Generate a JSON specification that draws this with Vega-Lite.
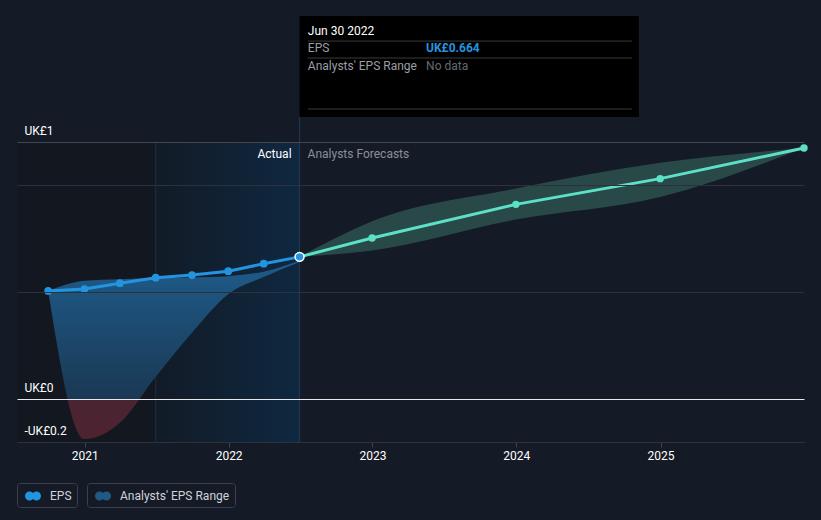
{
  "$schema": "https://vega.github.io/schema/vega-lite/v6.json",
  "width": 787,
  "height": 300,
  "autosize": {"type": "none"},
  "padding": {"left": 17, "top": 142, "right": 17, "bottom": 78},
  "background": "#151b26",
  "config": {
    "view": {"stroke": null},
    "font": "Roboto",
    "axisX": {"grid": false, "domainColor": "#3d424c", "tickColor": "#3d424c", "tickSize": 5, "labelColor": "#ffffff", "labelFontSize": 12, "labelFont": "Roboto", "labelPadding": 3, "labelFlush": false},
    "axisY": {"grid": true, "domain": false, "ticks": false, "tickSize": 0, "labelAlign": "left", "labelBaseline": "middle", "labelPadding": -7, "labelOffset": -12, "labelFlush": false, "labelColor": "#ffffff", "labelFontSize": 12, "labelFont": "Roboto"}
  },
  "datasets": {
    "actual": [
      {"date": "2020-09-30", "eps": 0.505},
      {"date": "2020-12-31", "eps": 0.514},
      {"date": "2021-03-31", "eps": 0.541},
      {"date": "2021-06-30", "eps": 0.567},
      {"date": "2021-09-30", "eps": 0.579},
      {"date": "2021-12-31", "eps": 0.597},
      {"date": "2022-03-31", "eps": 0.632},
      {"date": "2022-06-30", "eps": 0.664}
    ],
    "actualRange": [
      {"date": "2020-09-30", "lo": 0.505, "hi": 0.505},
      {"date": "2020-12-31", "lo": -0.186, "hi": 0.553},
      {"date": "2021-03-31", "lo": -0.11, "hi": 0.56},
      {"date": "2021-06-30", "lo": 0.105, "hi": 0.565},
      {"date": "2021-09-30", "lo": 0.31, "hi": 0.568},
      {"date": "2021-12-31", "lo": 0.49, "hi": 0.574},
      {"date": "2022-03-31", "lo": 0.57, "hi": 0.595},
      {"date": "2022-06-30", "lo": 0.64, "hi": 0.646}
    ],
    "forecast": [
      {"date": "2022-06-30", "eps": 0.664},
      {"date": "2022-12-31", "eps": 0.752},
      {"date": "2023-12-31", "eps": 0.909},
      {"date": "2024-12-31", "eps": 1.029},
      {"date": "2025-12-31", "eps": 1.172}
    ],
    "forecastRange": [
      {"date": "2022-06-30", "lo": 0.664, "hi": 0.664},
      {"date": "2022-12-31", "lo": 0.694, "hi": 0.83},
      {"date": "2023-12-31", "lo": 0.838, "hi": 0.983},
      {"date": "2024-12-31", "lo": 0.943, "hi": 1.103},
      {"date": "2025-12-31", "lo": 1.172, "hi": 1.172}
    ]
  },
  "layer": [
    {
      "data": {"values": [{}]},
      "mark": {"type": "rect", "fill": "#13171f"},
      "encoding": {
        "x": {"datum": {"year": 2020, "month": 7, "date": 13, "utc": true}, "type": "temporal", "title": null,
          "scale": {"type": "utc", "domain": [{"year": 2020, "month": 7, "date": 13, "utc": true}, {"year": 2025, "month": 12, "date": 31, "utc": true}]}},
        "x2": {"datum": {"year": 2021, "month": 6, "date": 30, "utc": true}},
        "y": {"datum": -0.2, "type": "quantitative", "title": null, "scale": {"domain": [-0.2, 1.2], "nice": false, "zero": false}},
        "y2": {"datum": 1.2}
      }
    },
    {
      "data": {"values": [{}]},
      "mark": {"type": "rect", "fill": {"gradient": "linear", "x1": 0, "y1": 0, "x2": 1, "y2": 0, "stops": [{"offset": 0, "color": "#121b27"}, {"offset": 1, "color": "#0f2840"}]}},
      "encoding": {
        "x": {"datum": {"year": 2021, "month": 6, "date": 30, "utc": true}, "type": "temporal", "title": null},
        "x2": {"datum": {"year": 2022, "month": 6, "date": 30, "utc": true}},
        "y": {"datum": -0.2, "type": "quantitative", "title": null, "scale": {"domain": [-0.2, 1.2], "nice": false, "zero": false}},
        "y2": {"datum": 1.2}
      }
    },
    {
      "data": {"values": [{}]},
      "mark": {"type": "rule", "color": "#1b2d42", "strokeWidth": 1},
      "encoding": {
        "x": {"datum": {"year": 2021, "month": 6, "date": 30, "utc": true}, "type": "temporal", "title": null},
        "y": {"datum": -0.2, "type": "quantitative", "title": null, "scale": {"domain": [-0.2, 1.2], "nice": false, "zero": false}},
        "y2": {"datum": 1.2}
      }
    },
    {
      "data": {"values": [{}]},
      "mark": {"type": "rule", "color": "#1f3b57", "strokeWidth": 1},
      "encoding": {
        "x": {"datum": {"year": 2022, "month": 6, "date": 30, "utc": true}, "type": "temporal", "title": null},
        "y": {"datum": -0.2, "type": "quantitative", "title": null, "scale": {"domain": [-0.2, 1.2], "nice": false, "zero": false}},
        "y2": {"datum": 1.3167}
      }
    },
    {
      "data": {"name": "forecastRange"},
      "mark": {"type": "area", "interpolate": "monotone", "fill": "#294848"},
      "encoding": {
        "x": {"field": "date", "type": "temporal", "title": null},
        "y": {"field": "lo", "type": "quantitative", "title": null, "scale": {"domain": [-0.2, 1.2], "nice": false, "zero": false}},
        "y2": {"field": "hi"}
      }
    },
    {
      "data": {"name": "actualRange"},
      "mark": {"type": "area", "interpolate": "monotone",
        "fill": {"gradient": "linear", "x1": 0, "y1": 0, "x2": 0, "y2": 1, "stops": [{"offset": 0, "color": "#1e5c8a"}, {"offset": 0.776, "color": "#1a3854"}, {"offset": 0.7765, "color": "#4a2431"}, {"offset": 1, "color": "#4e2330"}]}},
      "encoding": {
        "x": {"field": "date", "type": "temporal", "title": null},
        "y": {"field": "lo", "type": "quantitative", "title": null, "scale": {"domain": [-0.2, 1.2], "nice": false, "zero": false}},
        "y2": {"field": "hi"}
      }
    },
    {
      "data": {"name": "forecast"},
      "mark": {"type": "line", "color": "#5ce1c8", "strokeWidth": 3},
      "encoding": {
        "x": {"field": "date", "type": "temporal", "title": null},
        "y": {"field": "eps", "type": "quantitative", "title": null, "scale": {"domain": [-0.2, 1.2], "nice": false, "zero": false}}
      }
    },
    {
      "data": {"name": "forecast"},
      "mark": {"type": "circle", "color": "#5ce1c8", "size": 55, "opacity": 1},
      "encoding": {
        "x": {"field": "date", "type": "temporal", "title": null},
        "y": {"field": "eps", "type": "quantitative", "title": null, "scale": {"domain": [-0.2, 1.2], "nice": false, "zero": false}}
      }
    },
    {
      "data": {"name": "actual"},
      "mark": {"type": "line", "color": "#2394df", "strokeWidth": 3},
      "encoding": {
        "x": {"field": "date", "type": "temporal", "title": null,
          "scale": {"type": "utc", "domain": [{"year": 2020, "month": 7, "date": 13, "utc": true}, {"year": 2025, "month": 12, "date": 31, "utc": true}]},
          "axis": {"title": null, "grid": false, "format": "%Y",
            "values": [{"year": 2021, "month": 1, "date": 1, "utc": true}, {"year": 2022, "month": 1, "date": 1, "utc": true}, {"year": 2023, "month": 1, "date": 1, "utc": true}, {"year": 2024, "month": 1, "date": 1, "utc": true}, {"year": 2025, "month": 1, "date": 1, "utc": true}]}},
        "y": {"field": "eps", "type": "quantitative", "title": null,
          "scale": {"domain": [-0.2, 1.2], "nice": false, "zero": false},
          "axis": {"title": null, "grid": true, "values": [-0.2, 0, 0.5, 1, 1.2],
            "labelExpr": "datum.value === 1.2 ? 'UK£1' : datum.value === 0 ? 'UK£0' : datum.value === -0.2 ? '-UK£0.2' : ''",
            "gridColor": {"condition": [{"test": "datum.value === 0", "value": "#e8e8e8"}, {"test": "datum.value === 1.2", "value": "#43474f"}], "value": "#2c313b"},
            "gridWidth": 1,
            "zindex": 1}}
      }
    },
    {
      "data": {"name": "actual"},
      "mark": {"type": "circle", "color": "#2394df", "size": 60, "opacity": 1},
      "encoding": {
        "x": {"field": "date", "type": "temporal", "title": null},
        "y": {"field": "eps", "type": "quantitative", "title": null, "scale": {"domain": [-0.2, 1.2], "nice": false, "zero": false}}
      }
    },
    {
      "data": {"name": "actual"},
      "transform": [{"filter": "time(datum.date) === utc(2022, 5, 30)"}],
      "mark": {"type": "circle", "fill": "#2394df", "stroke": "#ffffff", "strokeWidth": 1.5, "size": 80, "opacity": 1},
      "encoding": {
        "x": {"field": "date", "type": "temporal", "title": null},
        "y": {"field": "eps", "type": "quantitative", "title": null, "scale": {"domain": [-0.2, 1.2], "nice": false, "zero": false}}
      }
    },
    {
      "data": {"values": [{}]},
      "mark": {"type": "text", "text": "Actual", "align": "right", "baseline": "middle", "dx": -8, "color": "#ffffff", "fontSize": 12, "font": "Roboto"},
      "encoding": {
        "x": {"datum": {"year": 2022, "month": 6, "date": 30, "utc": true}, "type": "temporal", "title": null},
        "y": {"datum": 1.144, "type": "quantitative", "title": null, "scale": {"domain": [-0.2, 1.2], "nice": false, "zero": false}}
      }
    },
    {
      "data": {"values": [{}]},
      "mark": {"type": "text", "text": "Analysts Forecasts", "align": "left", "baseline": "middle", "dx": 8, "color": "#8a8f98", "fontSize": 12, "font": "Roboto"},
      "encoding": {
        "x": {"datum": {"year": 2022, "month": 6, "date": 30, "utc": true}, "type": "temporal", "title": null},
        "y": {"datum": 1.144, "type": "quantitative", "title": null, "scale": {"domain": [-0.2, 1.2], "nice": false, "zero": false}}
      }
    },
    {
      "data": {"values": [{}]},
      "mark": {"type": "rect", "fill": "#000000"},
      "encoding": {
        "x": {"datum": {"year": 2022, "month": 6, "date": 30, "utc": true}, "type": "temporal", "title": null},
        "x2": {"datum": {"year": 2024, "month": 11, "date": 7, "utc": true}},
        "y": {"datum": 1.3167, "type": "quantitative", "title": null, "scale": {"domain": [-0.2, 1.2], "nice": false, "zero": false}},
        "y2": {"datum": 1.788}
      }
    },
    {
      "data": {"values": [{}]},
      "mark": {"type": "rule", "color": "#3a3a3a", "strokeWidth": 1},
      "encoding": {
        "x": {"datum": {"year": 2022, "month": 7, "date": 21, "utc": true}, "type": "temporal", "title": null},
        "x2": {"datum": {"year": 2024, "month": 10, "date": 20, "utc": true}},
        "y": {"datum": 1.671, "type": "quantitative", "title": null, "scale": {"domain": [-0.2, 1.2], "nice": false, "zero": false}}
      }
    },
    {
      "data": {"values": [{}]},
      "mark": {"type": "rule", "color": "#3a3a3a", "strokeWidth": 1},
      "encoding": {
        "x": {"datum": {"year": 2022, "month": 7, "date": 21, "utc": true}, "type": "temporal", "title": null},
        "x2": {"datum": {"year": 2024, "month": 10, "date": 20, "utc": true}},
        "y": {"datum": 1.592, "type": "quantitative", "title": null, "scale": {"domain": [-0.2, 1.2], "nice": false, "zero": false}}
      }
    },
    {
      "data": {"values": [{}]},
      "mark": {"type": "rule", "color": "#3a3a3a", "strokeWidth": 1},
      "encoding": {
        "x": {"datum": {"year": 2022, "month": 7, "date": 21, "utc": true}, "type": "temporal", "title": null},
        "x2": {"datum": {"year": 2024, "month": 10, "date": 20, "utc": true}},
        "y": {"datum": 1.354, "type": "quantitative", "title": null, "scale": {"domain": [-0.2, 1.2], "nice": false, "zero": false}}
      }
    },
    {
      "data": {"values": [{}]},
      "mark": {"type": "text", "text": "Jun 30 2022", "align": "left", "baseline": "middle", "color": "#ffffff", "fontSize": 12, "font": "Roboto"},
      "encoding": {
        "x": {"datum": {"year": 2022, "month": 7, "date": 21, "utc": true}, "type": "temporal", "title": null},
        "y": {"datum": 1.718, "type": "quantitative", "title": null, "scale": {"domain": [-0.2, 1.2], "nice": false, "zero": false}}
      }
    },
    {
      "data": {"values": [{}]},
      "mark": {"type": "text", "text": "EPS", "align": "left", "baseline": "middle", "color": "#9a9ea5", "fontSize": 12, "font": "Roboto"},
      "encoding": {
        "x": {"datum": {"year": 2022, "month": 7, "date": 21, "utc": true}, "type": "temporal", "title": null},
        "y": {"datum": 1.639, "type": "quantitative", "title": null, "scale": {"domain": [-0.2, 1.2], "nice": false, "zero": false}}
      }
    },
    {
      "data": {"values": [{}]},
      "mark": {"type": "text", "text": "UK£0.664", "align": "left", "baseline": "middle", "color": "#2394df", "fontSize": 12, "fontWeight": "bold", "font": "Roboto"},
      "encoding": {
        "x": {"datum": {"year": 2023, "month": 5, "date": 17, "utc": true}, "type": "temporal", "title": null},
        "y": {"datum": 1.639, "type": "quantitative", "title": null, "scale": {"domain": [-0.2, 1.2], "nice": false, "zero": false}}
      }
    },
    {
      "data": {"values": [{}]},
      "mark": {"type": "text", "text": "Analysts' EPS Range", "align": "left", "baseline": "middle", "color": "#9a9ea5", "fontSize": 12, "font": "Roboto"},
      "encoding": {
        "x": {"datum": {"year": 2022, "month": 7, "date": 21, "utc": true}, "type": "temporal", "title": null},
        "y": {"datum": 1.555, "type": "quantitative", "title": null, "scale": {"domain": [-0.2, 1.2], "nice": false, "zero": false}}
      }
    },
    {
      "data": {"values": [{}]},
      "mark": {"type": "text", "text": "No data", "align": "left", "baseline": "middle", "color": "#666a70", "fontSize": 12, "font": "Roboto"},
      "encoding": {
        "x": {"datum": {"year": 2023, "month": 5, "date": 17, "utc": true}, "type": "temporal", "title": null},
        "y": {"datum": 1.555, "type": "quantitative", "title": null, "scale": {"domain": [-0.2, 1.2], "nice": false, "zero": false}}
      }
    },
    {
      "data": {"values": [{"series": "EPS"}]},
      "mark": {"type": "circle", "opacity": 0},
      "encoding": {
        "color": {"field": "series", "type": "nominal", "scale": {"range": ["#2394df"]},
          "legend": {"orient": "none", "legendX": 0, "legendY": 341, "title": null,
            "symbolType": "M-1,0A0.5625,0.5625,0,1,1,0.125,0A0.5625,0.5625,0,1,1,-1,0ZM-0.125,0A0.5625,0.5625,0,1,1,1,0A0.5625,0.5625,0,1,1,-0.125,0Z",
            "symbolSize": 256, "symbolOpacity": 1, "symbolStrokeWidth": 0, "symbolOffset": 3,
            "labelColor": "#d0d3d8", "labelFontSize": 12, "labelFont": "Roboto", "labelOffset": 9,
            "strokeColor": "#3b404a", "cornerRadius": 3, "padding": 5,
            "encode": {"symbols": {"update": {"fill": {"value": {"gradient": "linear", "x1": 0, "y1": 0, "x2": 1, "y2": 0, "stops": [{"offset": 0, "color": "#2394df"}, {"offset": 0.45, "color": "#2394df"}, {"offset": 0.45, "color": "#5ce1c8"}, {"offset": 1, "color": "#5ce1c8"}]}}, "stroke": {"value": "transparent"}}}}}}
      }
    },
    {
      "data": {"values": [{"range": "Analysts' EPS Range"}]},
      "mark": {"type": "circle", "opacity": 0},
      "encoding": {
        "color": {"field": "range", "type": "nominal", "scale": {"range": ["#1f5a85"]},
          "legend": {"orient": "none", "legendX": 70, "legendY": 341, "title": null,
            "symbolType": "M-1,0A0.5625,0.5625,0,1,1,0.125,0A0.5625,0.5625,0,1,1,-1,0ZM-0.125,0A0.5625,0.5625,0,1,1,1,0A0.5625,0.5625,0,1,1,-0.125,0Z",
            "symbolSize": 256, "symbolOpacity": 1, "symbolStrokeWidth": 0, "symbolOffset": 3,
            "labelColor": "#d0d3d8", "labelFontSize": 12, "labelFont": "Roboto", "labelOffset": 9,
            "strokeColor": "#3b404a", "cornerRadius": 3, "padding": 5,
            "encode": {"symbols": {"update": {"fill": {"value": {"gradient": "linear", "x1": 0, "y1": 0, "x2": 1, "y2": 0, "stops": [{"offset": 0, "color": "#1f5a85"}, {"offset": 0.45, "color": "#1f5a85"}, {"offset": 0.45, "color": "#3c7a74"}, {"offset": 1, "color": "#3c7a74"}]}}, "stroke": {"value": "transparent"}}}}}}
      }
    }
  ],
  "resolve": {"scale": {"color": "independent"}, "legend": {"color": "independent"}}
}
